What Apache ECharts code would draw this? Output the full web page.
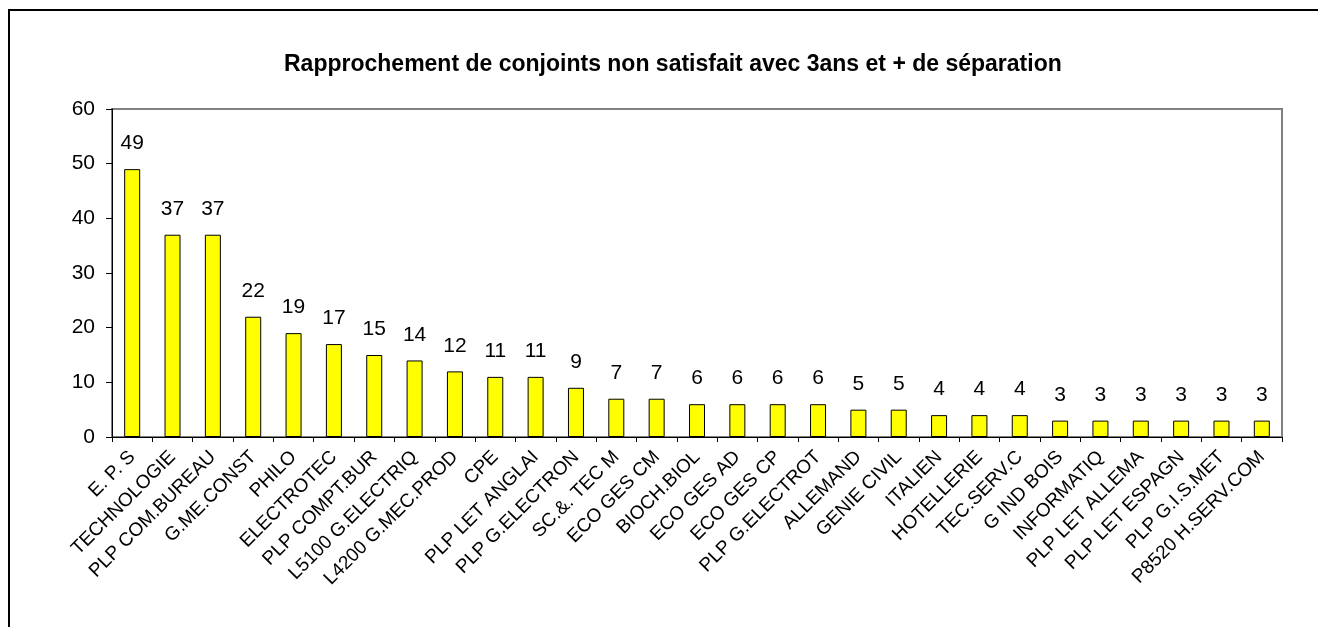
<!DOCTYPE html>
<html>
<head>
<meta charset="utf-8">
<script src="https://cdn.jsdelivr.net/npm/echarts@6/dist/echarts.min.js"></script>
<style>
  html, body { margin: 0; padding: 0; background: #fff; }
  #main { width: 1318px; height: 627px; }
</style>
</head>
<body>
<div id="main"></div>
<script>
var titleText = 'Rapprochement de conjoints non satisfait avec 3ans et + de séparation'

var categories = ['E. P. S', 'TECHNOLOGIE', 'PLP COM.BUREAU', 'G.ME.CONST', 'PHILO',
    'ELECTROTEC', 'PLP COMPT.BUR', 'L5100 G.ELECTRIQ', 'L4200 G.MEC.PROD', 'CPE',
    'PLP LET ANGLAI', 'PLP G.ELECTRON', 'SC.&. TEC M', 'ECO GES CM', 'BIOCH.BIOL',
    'ECO GES AD', 'ECO GES CP', 'PLP G.ELECTROT', 'ALLEMAND', 'GENIE CIVIL',
    'ITALIEN', 'HOTELLERIE', 'TEC.SERV.C', 'G IND BOIS', 'INFORMATIQ',
    'PLP LET ALLEMA', 'PLP LET ESPAGN', 'PLP G.I.S.MET', 'P8520 H.SERV.COM']

var values = [49, 37, 37, 22, 19, 17, 15, 14, 12, 11, 11, 9, 7, 7, 6,
    6, 6, 6, 5, 5, 4, 4, 4, 3, 3, 3, 3, 3, 3]

var yMin = 0
var yMax = 60
var yStep = 10

var font = 'Arial, "Liberation Sans", sans-serif'

var myChart = echarts.init(document.getElementById('main'))

myChart.setOption({
    animation: false,
    backgroundColor: '#fff',
    title: {
        text: titleText,
        left: 279,
        top: 48,
        textStyle: {fontFamily: font, fontSize: 23, fontWeight: 'bold', color: '#000'}
    },
    graphic: [{
        type: 'rect',
        shape: {x: 9, y: 10, width: 1330, height: 640},
        style: {fill: 'none', stroke: '#000', lineWidth: 2},
        silent: true
    }],
    grid: {
        left: 112, top: 109, right: 36, bottom: 190,
        show: true, borderColor: '#808080', borderWidth: 2
    },
    xAxis: {
        type: 'category',
        data: categories,
        axisLine: {lineStyle: {color: '#000', width: 1}},
        axisTick: {show: true, length: 5, alignWithLabel: false, lineStyle: {color: '#000'}},
        axisLabel: {
            rotate: 45, interval: 0, margin: 17,
            fontFamily: font, fontSize: 19, color: '#000'
        }
    },
    yAxis: {
        type: 'value',
        min: yMin, max: yMax, interval: yStep,
        axisLine: {show: true, lineStyle: {color: '#000', width: 1}},
        axisTick: {show: true, length: 6, lineStyle: {color: '#000'}},
        splitLine: {show: false},
        axisLabel: {margin: 17, fontFamily: font, fontSize: 21, color: '#000'}
    },
    series: [{
        type: 'bar',
        data: values,
        barWidth: 16,
        itemStyle: {color: '#ffff00', borderColor: '#000', borderWidth: 1},
        label: {
            show: true, position: 'top', distance: 15,
            fontFamily: font, fontSize: 21, color: '#000'
        }
    }]
})
</script>
</body>
</html>
